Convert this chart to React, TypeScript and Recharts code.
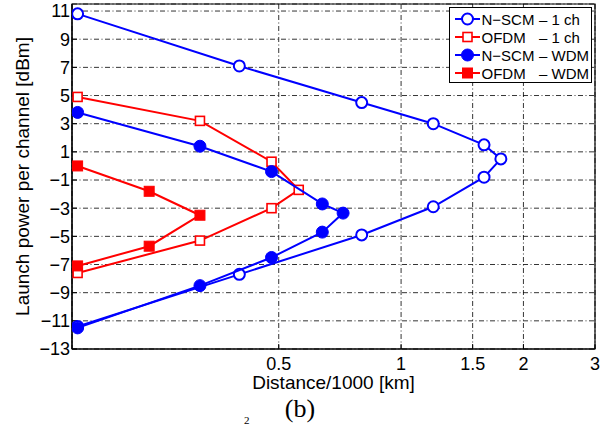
import { ScatterChart, Scatter, XAxis, YAxis, CartesianGrid, ReferenceArea, Legend } from 'recharts';

// distances are Distance/1000 [km], power in dBm
const nscm1chDist = [0.16, 0.4, 0.8, 1.2, 1.6, 1.76, 1.6, 1.2, 0.8, 0.4, 0.16];
const nscm1chPower = [10.8, 7.1, 4.5, 3.0, 1.5, 0.5, -0.8, -2.9, -4.9, -7.7, -11.4];
const ofdm1chDist = [0.16, 0.32, 0.48, 0.56, 0.48, 0.32, 0.16];
const ofdm1chPower = [4.9, 3.2, 0.3, -1.7, -3.0, -5.3, -7.6];
const nscmWdmDist = [0.16, 0.32, 0.48, 0.64, 0.72, 0.64, 0.48, 0.32, 0.16];
const nscmWdmPower = [3.8, 1.4, -0.4, -2.7, -3.35, -4.7, -6.5, -8.5, -11.5];
const ofdmWdmDist = [0.16, 0.24, 0.32, 0.24, 0.16];
const ofdmWdmPower = [0.0, -1.8, -3.5, -5.7, -7.1];

const xTicks = [0.5, 1, 1.5, 2, 3];
const yTicks = [-13, -11, -9, -7, -5, -3, -1, 1, 3, 5, 7, 9, 11];
const xDomain = [0.155, 3];
const yDomain = [-13, 11.5];

const BLUE = '#0000ff';
const RED = '#ff0000';
const FONT = '"Liberation Sans", Arial, Helvetica, sans-serif';

const toPoints = (xs: number[], ys: number[]) => xs.map((x, i) => ({ x, y: ys[i] }));

type Kind = 'openCircle' | 'openSquare' | 'filledCircle' | 'filledSquare';

function Marker({ cx, cy, kind, color }: { cx: number; cy: number; kind: Kind; color: string }) {
  if (kind === 'openCircle') return <circle cx={cx} cy={cy} r={5.5} fill="#fff" stroke={color} strokeWidth={2} />;
  if (kind === 'filledCircle') return <circle cx={cx} cy={cy} r={6} fill={color} stroke={color} strokeWidth={1} />;
  if (kind === 'openSquare') return <rect x={cx - 4.5} y={cy - 4.5} width={9} height={9} fill="#fff" stroke={color} strokeWidth={1.6} />;
  return <rect x={cx - 5} y={cy - 5} width={10} height={10} fill={color} stroke={color} strokeWidth={1} />;
}

const series = [
  { name: 'N\u2212SCM', suffix: '\u2013 1 ch', data: toPoints(nscm1chDist, nscm1chPower), color: BLUE, kind: 'openCircle' as Kind },
  { name: 'OFDM', suffix: '\u2013 1 ch', data: toPoints(ofdm1chDist, ofdm1chPower), color: RED, kind: 'openSquare' as Kind },
  { name: 'N\u2212SCM', suffix: '\u2013 WDM', data: toPoints(nscmWdmDist, nscmWdmPower), color: BLUE, kind: 'filledCircle' as Kind },
  { name: 'OFDM', suffix: '\u2013 WDM', data: toPoints(ofdmWdmDist, ofdmWdmPower), color: RED, kind: 'filledSquare' as Kind },
];

function LegendBox() {
  return (
    <svg width={144} height={77} style={{ display: 'block', fontFamily: FONT }}>
      <rect x={0.5} y={0.5} width={142} height={75} fill="#fff" stroke="#000" strokeWidth={1} />
      {series.map((s, i) => {
        const cy = 12 + i * 18;
        return (
          <g key={i}>
            <line x1={6} x2={31} y1={cy} y2={cy} stroke={s.color} strokeWidth={2} />
            <Marker cx={18.5} cy={cy} kind={s.kind} color={s.color} />
            <text x={32.5} y={cy + 5.5} fontSize={15} fill="#000">{s.name}</text>
            <text x={90} y={cy + 5.5} fontSize={15} fill="#000">{s.suffix}</text>
          </g>
        );
      })}
    </svg>
  );
}

const fmt = (v: number) => String(v).replace('-', '\u2212');
const axisLine = { stroke: '#000', strokeWidth: 1.2 };
const tickLine = { stroke: '#000', strokeWidth: 1 };

export default function App() {
  return (
    <div style={{ position: 'absolute', left: 0, top: 0, width: 613, height: 430, background: '#fff', overflow: 'hidden', fontFamily: FONT }}>
      <ScatterChart width={613} height={430} margin={{ top: 4, right: 18, left: 0, bottom: 39 }}>
        <CartesianGrid stroke="#000" strokeWidth={0.8} strokeDasharray="5 2.5 1 2.5" />
        <XAxis
          dataKey="x"
          type="number"
          scale="log"
          domain={xDomain}
          ticks={xTicks}
          allowDataOverflow
          height={42}
          tickLine={tickLine}
          tickSize={-5}
          tickMargin={13}
          axisLine={axisLine}
          tick={{ fontSize: 18, fill: '#000', fontFamily: FONT }}
          label={{ value: 'Distance/1000 [km]', position: 'insideBottom', offset: 2, style: { fontSize: 19, fill: '#000', fontFamily: FONT } }}
        />
        <XAxis
          xAxisId="top"
          orientation="top"
          type="number"
          scale="log"
          domain={xDomain}
          ticks={xTicks}
          allowDataOverflow
          height={0}
          tick={false}
          tickLine={tickLine}
          tickSize={-5}
          axisLine={axisLine}
        />
        <YAxis
          dataKey="y"
          type="number"
          domain={yDomain}
          ticks={yTicks}
          allowDataOverflow
          width={72}
          tickLine={tickLine}
          tickSize={-5}
          tickMargin={7}
          tickFormatter={fmt}
          axisLine={axisLine}
          tick={{ fontSize: 18, fill: '#000', fontFamily: FONT }}
          label={{
            content: () => (
              <text x={29} y={176.5} transform="rotate(-90 29 176.5)" textAnchor="middle" fontSize={19} fill="#000" fontFamily={FONT}>
                Launch power per channel [dBm]
              </text>
            ),
          }}
        />
        <YAxis
          yAxisId="right"
          orientation="right"
          type="number"
          domain={yDomain}
          ticks={yTicks}
          allowDataOverflow
          width={0}
          tick={false}
          tickLine={tickLine}
          tickSize={-5}
          axisLine={axisLine}
        />
        <ReferenceArea x1={xDomain[0]} x2={xDomain[1]} y1={yDomain[0]} y2={yDomain[1]} fill="none" stroke="#000" strokeWidth={1.2} ifOverflow="visible" />
        {series.map((s, i) => (
          <Scatter
            key={i}
            name={s.name + ' ' + s.suffix}
            data={s.data}
            fill={s.color}
            line={{ stroke: s.color, strokeWidth: 2 }}
            lineJointType="linear"
            shape={(p: any) => <Marker cx={p.cx} cy={p.cy} kind={s.kind} color={s.color} />}
            isAnimationActive={false}
          />
        ))}
        <Legend
          layout="horizontal"
          verticalAlign="middle"
          align="center"
          content={() => <LegendBox />}
          wrapperStyle={{ position: 'absolute', left: 449, top: 7, width: 144, height: 77 }}
        />
      </ScatterChart>
      <div style={{ position: 'absolute', left: 0, width: 613, top: 394, textAlign: 'center', fontFamily: '"Liberation Serif", "Times New Roman", serif', fontSize: 26, lineHeight: '30px', color: '#000' }}>
        <span style={{ marginLeft: -13 }}>(b)</span>
      </div>
      <div style={{ position: 'absolute', left: 244, top: 414, fontFamily: '"Liberation Serif", serif', fontSize: 11, lineHeight: '12px', color: '#000' }}>2</div>
    </div>
  );
}
